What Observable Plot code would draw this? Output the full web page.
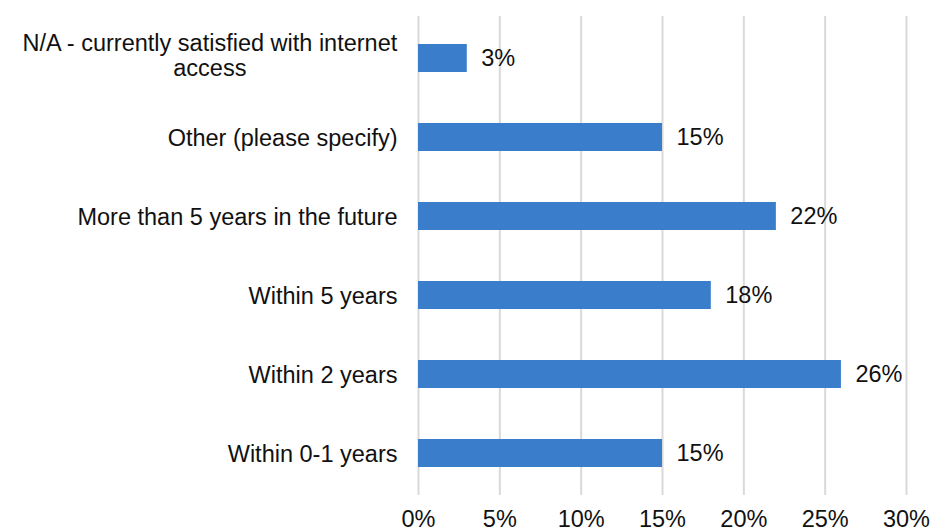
<!DOCTYPE html>
<html><head><meta charset="utf-8">
<script src="https://cdn.jsdelivr.net/npm/d3@7"></script>
<script src="https://cdn.jsdelivr.net/npm/@observablehq/plot@0.6"></script>
<style>body{margin:0;background:#fff} svg{font-family:"Liberation Sans",Arial,sans-serif}</style>
</head><body><div id="chart"></div>
<script>
const categories = [
  "N/A - currently satisfied with internet\naccess",
  "Other (please specify)",
  "More than 5 years in the future",
  "Within 5 years",
  "Within 2 years",
  "Within 0-1 years"
];
const values = [3, 15, 22, 18, 26, 15];
const xTicks = [0, 5, 10, 15, 20, 25, 30];
const data = categories.map((c, i) => ({category: c, value: values[i]}));
const FS = 23.5;
const ink = "#111";
const chart = Plot.plot({
  width: 930, height: 531,
  marginTop: 16, marginBottom: 36, marginLeft: 418, marginRight: 24,
  style: {fontSize: FS + "px", fontFamily: '"Liberation Sans", Arial, sans-serif', color: ink, background: "#fff"},
  x: {domain: [0, 30], ticks: xTicks, tickFormat: d => d + "%"},
  y: {domain: categories, paddingInner: 0.65, paddingOuter: 0.325},
  marks: [
    Plot.gridX(xTicks, {stroke: "#d9d9d9", strokeOpacity: 1, strokeWidth: 2}),
    Plot.barX(data, {x: "value", y: "category", fill: "#3a7dca"}),
    Plot.text(data, {x: "value", y: "category", text: d => d.value + "%", textAnchor: "start", dx: 14, fill: ink, fontSize: FS}),
    Plot.axisX({ticks: xTicks, tickSize: 0, tickPadding: 15, tickFormat: d => d + "%", label: null, fontSize: FS, fill: ink}),
    Plot.axisY({tickSize: 0, tickPadding: 21, label: null, lineHeight: 1.07, fontSize: FS, fill: ink})
  ]
});
document.getElementById("chart").appendChild(chart);
// center multi-line category label like the reference
chart.querySelectorAll("text").forEach(t => {
  if (t.querySelectorAll("tspan").length > 1) {
    const w = t.getBBox().width;
    t.setAttribute("text-anchor", "middle");
    const tr = t.getAttribute("transform") || "";
    t.setAttribute("transform", tr + ` translate(${-w / 2},-3)`);
  }
});
</script>
</body></html>
